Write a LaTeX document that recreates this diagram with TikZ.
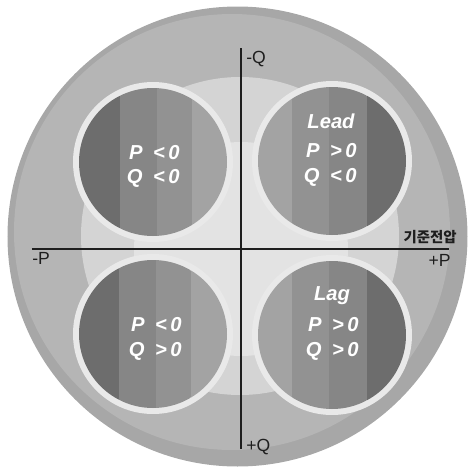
\documentclass[tikz,border=0pt]{standalone}
\usepackage{fontspec}
\setmainfont{Liberation Sans}
\newfontfamily\krfont{Noto Sans CJK KR}
\usepackage{tikz}
\definecolor{rimGrey}{HTML}{A7A7A7}
\definecolor{bandGrey}{HTML}{B5B5B5}
\definecolor{haloGrey}{HTML}{D4D4D4}
\definecolor{coreGrey}{HTML}{E3E3E3}
\definecolor{ringWhite}{HTML}{E9E9E9}
\definecolor{stripeA}{HTML}{6D6D6D}
\definecolor{stripeB}{HTML}{868686}
\definecolor{stripeC}{HTML}{929292}
\definecolor{stripeD}{HTML}{A3A3A3}
\definecolor{axisInk}{HTML}{1E1E1E}
\tikzset{
  axislbl/.style={inner sep=0pt, text=axisInk, font=\fontsize{10}{11}\selectfont},
  condlbl/.style={inner sep=0pt, text=white, font=\fontsize{11.5}{13}\selectfont\bfseries\itshape},
}

\begin{document}
\begin{tikzpicture}[x=0.02cm, y=-0.02cm]
  \useasboundingbox (0,0) rectangle (469,471);
  % Outer disc and its lighter band
  \fill[rimGrey] (237.5,236.5) circle (230);
  \fill[bandGrey] (232,232) circle (218);
  % Light halo and bright core round the origin
  \fill[haloGrey] (240,236) circle (159);
  \fill[coreGrey] (241,249) circle (107);
  % Four quadrant discs, white rim
  \fill[ringWhite] (153,162) circle (80);
  \fill[ringWhite] (332,161) circle (80);
  \fill[ringWhite] (153,334) circle (80);
  \fill[ringWhite] (332,335) circle (80);
  % Striped insides (dark side facing outwards)
  \begin{scope}
    \clip (153,162) circle (74);
    \fill[stripeA] (70,80) rectangle (120,250);
    \fill[stripeB] (120,80) rectangle (157,250);
    \fill[stripeC] (157,80) rectangle (192,250);
    \fill[stripeD] (192,80) rectangle (240,250);
  \end{scope}
  \begin{scope}
    \clip (332,161) circle (74);
    \fill[stripeD] (250,80) rectangle (292,250);
    \fill[stripeC] (292,80) rectangle (329,250);
    \fill[stripeB] (329,80) rectangle (367,250);
    \fill[stripeA] (367,80) rectangle (420,250);
  \end{scope}
  \begin{scope}
    \clip (153,334) circle (74);
    \fill[stripeA] (70,250) rectangle (119,420);
    \fill[stripeB] (119,250) rectangle (156,420);
    \fill[stripeC] (156,250) rectangle (191,420);
    \fill[stripeD] (191,250) rectangle (240,420);
  \end{scope}
  \begin{scope}
    \clip (332,335) circle (74);
    \fill[stripeD] (250,250) rectangle (292,420);
    \fill[stripeC] (292,250) rectangle (329,420);
    \fill[stripeB] (329,250) rectangle (367,420);
    \fill[stripeA] (367,250) rectangle (420,420);
  \end{scope}
  % P and Q axes
  \coordinate (qTop) at (241,48);
  \coordinate (qBot) at (241,449);
  \coordinate (pLeft) at (32,249);
  \coordinate (pRight) at (449,249);
  \draw[axisInk, line width=0.6pt] (qTop) -- (qBot);
  \draw[axisInk, line width=0.6pt] (pLeft) -- (pRight);
  \node[axislbl, anchor=base west] (negQ) at (246,63) {-Q};
  \node[axislbl, anchor=base west] (posQ) at (246,451) {+Q};
  \node[axislbl, anchor=base west] (negP) at (32,264) {-P};
  \node[axislbl, anchor=base east] (posP) at (451,266) {+P};
  \node[inner sep=0pt, text=axisInk, anchor=base east, font=\krfont\bfseries\fontsize{8.2}{9}\selectfont] (refV) at (457,242) {기준전압};
  % Quadrant conditions
  \node[condlbl, anchor=base east] (tlP) at (180,159) {P\hspace{6pt}<\,0};
  \node[condlbl, anchor=base east] (tlQ) at (180,183) {Q\hspace{6pt}<\,0};
  \node[condlbl, anchor=base] (leadLbl) at (331,128) {Lead};
  \node[condlbl, anchor=base east] (trP) at (357,157) {P\hspace{6pt}>\,0};
  \node[condlbl, anchor=base east] (trQ) at (357,182) {Q\hspace{6pt}<\,0};
  \node[condlbl, anchor=base east] (blP) at (182,331) {P\hspace{6pt}<\,0};
  \node[condlbl, anchor=base east] (blQ) at (182,356) {Q\hspace{6pt}>\,0};
  \node[condlbl, anchor=base] (lagLbl) at (332,300) {Lag};
  \node[condlbl, anchor=base east] (brP) at (359,331) {P\hspace{6pt}>\,0};
  \node[condlbl, anchor=base east] (brQ) at (359,356) {Q\hspace{6pt}>\,0};
\end{tikzpicture}
\end{document}
